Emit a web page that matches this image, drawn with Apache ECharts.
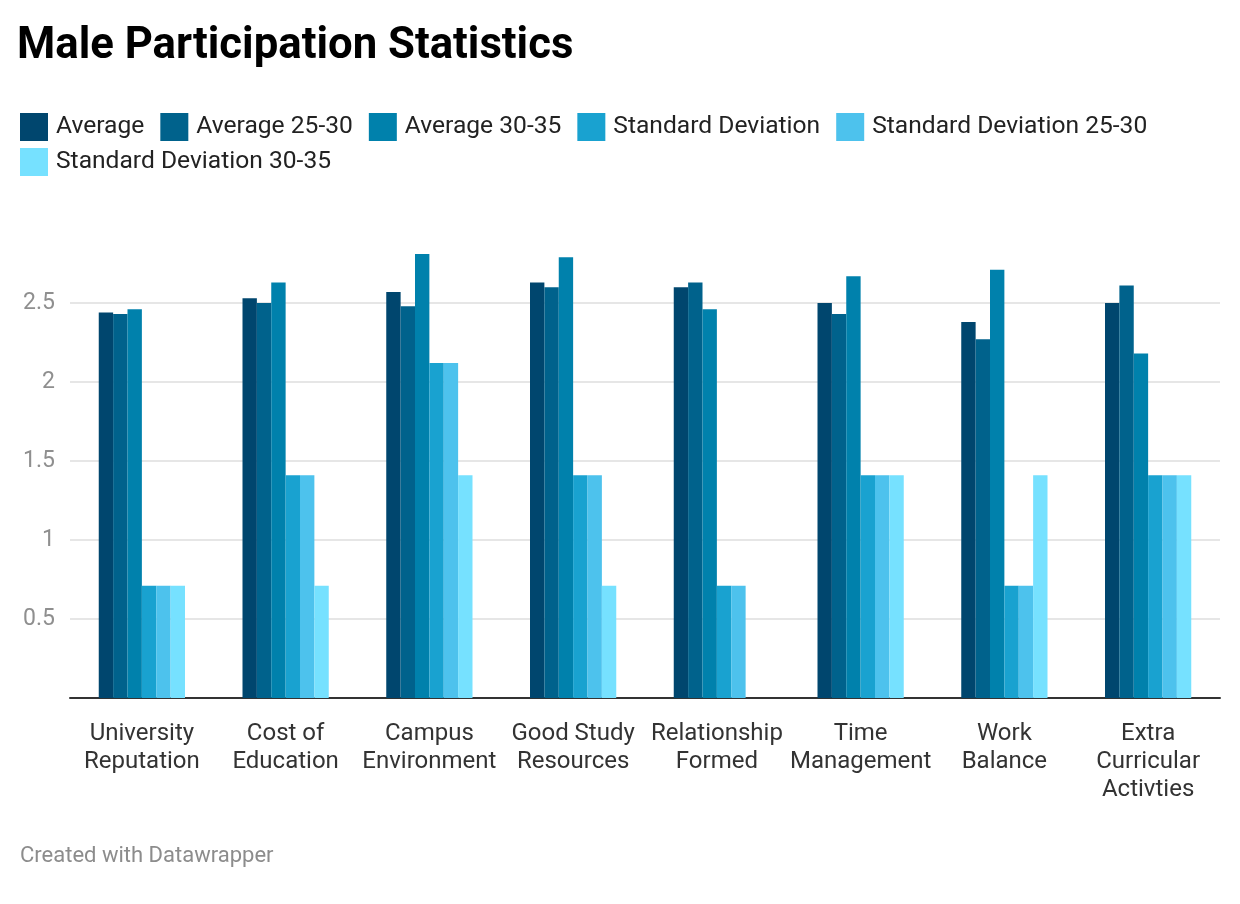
<!DOCTYPE html>
<html>
<head>
<meta charset="utf-8">
<script src="https://cdn.jsdelivr.net/npm/echarts@6/dist/echarts.min.js"></script>
<style>
html,body{margin:0;padding:0;background:#fff;}
#chart{width:1240px;height:904px;}
</style>
</head>
<body>
<div id="chart"></div>
<script>
const categories = ["University\nReputation","Cost of\nEducation","Campus\nEnvironment","Good Study\nResources","Relationship\nFormed","Time\nManagement","Work\nBalance","Extra\nCurricular\nActivties"];
const seriesNames = ["Average","Average 25-30","Average 30-35","Standard Deviation","Standard Deviation 25-30","Standard Deviation 30-35"];
const average      = [2.44, 2.53, 2.57, 2.63, 2.6, 2.5, 2.38, 2.5];
const average2530  = [2.43, 2.5, 2.48, 2.6, 2.63, 2.43, 2.27, 2.61];
const average3035  = [2.46, 2.63, 2.81, 2.79, 2.46, 2.67, 2.71, 2.18];
const sd           = [0.71, 1.41, 2.12, 1.41, 0.71, 1.41, 0.71, 1.41];
const sd2530       = [0.71, 1.41, 2.12, 1.41, 0.71, 1.41, 0.71, 1.41];
const sd3035       = [0.71, 0.71, 1.41, 0.71, null, 1.41, 1.41, 1.41];
const seriesValues = [average, average2530, average3035, sd, sd2530, sd3035];
const colors = ["#00466e","#00628c","#0081ac","#19a2d0","#4dc2ed","#76e1ff"];

const chart = echarts.init(document.getElementById('chart'));
const font = 'Roboto, "Noto Sans", sans-serif';
chart.setOption({
  animation: false,
  textStyle: {fontFamily: font},
  title: [{
    text: 'Male Participation Statistics',
    left: 17, top: 25, padding: 0,
    textStyle: {fontFamily: font, fontSize: 43.7, fontWeight: 'bold', color: '#000'}
  },{
    text: 'Created with Datawrapper',
    left: 20, top: 845, padding: 0,
    textStyle: {fontFamily: font, fontSize: 22, fontWeight: 'normal', color: '#8c8c8c'}
  }],
  legend: [{
    data: seriesNames.slice(0,5),
    left: 20, top: 113, padding: 0, itemWidth: 28, itemHeight: 28, itemGap: 16,
    icon: 'rect',
    textStyle: {fontFamily: font, fontSize: 24.6, color: '#222', padding: [0,0,0,3]}
  },{
    data: seriesNames.slice(5),
    left: 20, top: 148, padding: 0, itemWidth: 28, itemHeight: 28, itemGap: 16,
    icon: 'rect',
    textStyle: {fontFamily: font, fontSize: 24.6, color: '#222', padding: [0,0,0,3]}
  }],
  grid: {left: 70, right: 20, top: 224, bottom: 206, containLabel: false},
  xAxis: {
    type: 'category',
    data: categories,
    axisLine: {lineStyle: {color: '#333', width: 2}},
    axisTick: {show: false},
    axisLabel: {fontFamily: font, fontSize: 24, color: '#333', lineHeight: 28, margin: 22, interval: 0}
  },
  yAxis: {
    type: 'value',
    min: 0, max: 3, interval: 0.5,
    axisLine: {show: false},
    axisTick: {show: false},
    splitLine: {showMaxLine: false, lineStyle: {color: '#e6e6e6', width: 2}},
    axisLabel: {fontFamily: font, fontSize: 23, color: '#8f8f8f', margin: 15,
      formatter: v => (v === 0 || v === 3) ? '' : String(v)},
  },
  series: seriesNames.map((n,i) => ({
    name: n, type: 'bar', data: seriesValues[i],
    itemStyle: {color: colors[i]},
    barGap: '0%', barCategoryGap: '40%'
  }))
});
</script>
</body>
</html>
